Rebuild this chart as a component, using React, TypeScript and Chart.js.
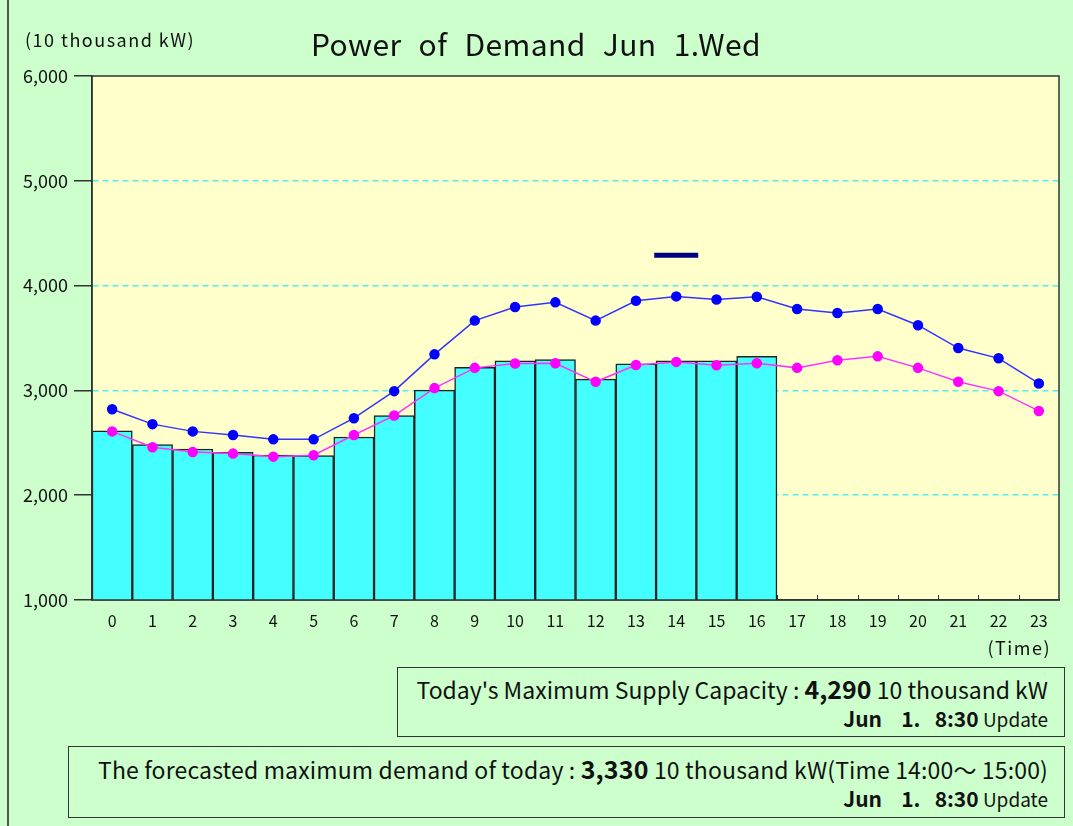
import React, { useEffect, useRef } from "react";
import { Chart, registerables } from "chart.js";

Chart.register(...registerables);

const hours = ["0","1","2","3","4","5","6","7","8","9","10","11","12","13","14","15","16","17","18","19","20","21","22","23"];
const actualDemand: (number | null)[] = [2615, 2482, 2441, 2410, 2382, 2378, 2555, 2760, 3003, 3221, 3281, 3294, 3107, 3253, 3281, 3281, 3325, null, null, null, null, null, null, null];
const blueDemand = [2820, 2678, 2609, 2574, 2533, 2533, 2735, 2993, 3344, 3666, 3795, 3840, 3666, 3855, 3897, 3868, 3893, 3777, 3739, 3777, 3622, 3404, 3306, 3066];
const magentaDemand = [2609, 2457, 2413, 2397, 2368, 2382, 2574, 2760, 3022, 3215, 3256, 3259, 3082, 3243, 3272, 3240, 3259, 3215, 3287, 3325, 3215, 3082, 2993, 2804];
const supplyCapacity: (number | null)[] = [null, null, null, null, null, null, null, null, null, null, null, null, null, null, 4290, null, null, null, null, null, null, null, null, null];
const yTicks = [1000, 2000, 3000, 4000, 5000, 6000];

const FONT = "'Noto Sans CJK JP', 'Noto Sans', sans-serif";

const plotPlugin = {
  id: "plotDeco",
  beforeDraw(chart: any) {
    const { ctx, chartArea: a } = chart;
    ctx.save();
    ctx.fillStyle = "#ffffcc";
    ctx.fillRect(a.left, a.top, a.right - a.left, a.bottom - a.top);
    ctx.restore();
  },
  beforeDatasetsDraw(chart: any) {
    const { ctx, chartArea: a, scales } = chart;
    const x = scales.x;
    ctx.save();
    ctx.strokeStyle = "#333";
    ctx.lineWidth = 1;
    for (let i = 1; i < hours.length; i++) {
      const px = Math.round((x.getPixelForValue(i - 1) + x.getPixelForValue(i)) / 2) + 0.5;
      ctx.beginPath();
      ctx.moveTo(px, a.bottom);
      ctx.lineTo(px, a.bottom - 5);
      ctx.stroke();
    }
    ctx.restore();
  },
  afterDatasetsDraw(chart: any) {
    const { ctx, chartArea: a } = chart;
    ctx.save();
    ctx.strokeStyle = "#333";
    ctx.lineWidth = 1.5;
    ctx.strokeRect(a.left, a.top, a.right - a.left, a.bottom - a.top);
    ctx.restore();
  },
};

export default function App() {
  const ref = useRef<HTMLCanvasElement>(null);
  useEffect(() => {
    if (!ref.current) return;
    const chart = new Chart(ref.current, {
      type: "bar",
      data: {
        labels: hours,
        datasets: [
          {
            type: "line",
            label: "Supply capacity",
            data: supplyCapacity,
            showLine: false,
            pointStyle: "line",
            pointRadius: 22,
            pointBorderWidth: 5,
            borderColor: "#000080",
            backgroundColor: "#000080",
            order: 0,
          } as any,
          {
            type: "line",
            label: "Forecast",
            data: magentaDemand,
            borderColor: "#ff33ff",
            backgroundColor: "#ff00ff",
            pointBackgroundColor: "#ff00ff",
            pointBorderColor: "#ff00ff",
            borderWidth: 1.5,
            pointRadius: 4.5,
            tension: 0,
            order: 1,
          } as any,
          {
            type: "line",
            label: "Comparison",
            data: blueDemand,
            borderColor: "#3333ff",
            backgroundColor: "#0000ff",
            pointBackgroundColor: "#0000ff",
            pointBorderColor: "#0000ff",
            borderWidth: 1.5,
            pointRadius: 4.5,
            tension: 0,
            order: 2,
          } as any,
          {
            type: "bar",
            label: "Actual",
            data: actualDemand,
            backgroundColor: "#44ffff",
            borderColor: "#222",
            borderWidth: 1.5,
            barPercentage: 1,
            categoryPercentage: 1,
            order: 3,
          } as any,
        ],
      },
      options: {
        animation: false,
        responsive: false,
        layout: { autoPadding: false, padding: { top: 76, right: 14, left: 0, bottom: 0 } },
        plugins: { legend: { display: false }, tooltip: { enabled: false }, title: { display: false } },
        scales: {
          x: {
            offset: true,
            grid: { display: true, drawOnChartArea: false, drawTicks: true, tickLength: 11, tickColor: "rgba(0,0,0,0)", color: "rgba(0,0,0,0)" },
            border: { display: true, color: "#333", width: 1.5 },
            ticks: { color: "#111", padding: 0, font: { family: FONT, size: 16 }, maxRotation: 0, autoSkip: false },
            afterFit: (s: any) => { s.height = 60; s.paddingLeft = 0; s.paddingRight = 0; },
          },
          y: {
            min: 1000,
            max: 6000,
            afterBuildTicks: (s: any) => { s.ticks = yTicks.map((v) => ({ value: v })); },
            grid: {
              color: (c: any) => (c.tick && (c.tick.value === 1000 || c.tick.value === 6000) ? "rgba(0,0,0,0)" : "#55eeee"),
              lineWidth: 1.5,
              tickColor: "#333",
              tickLength: 18,
              tickWidth: 1.5,
            },
            border: { display: true, color: "#333", width: 1.5, dash: [6, 4] },
            ticks: {
              color: "#111",
              padding: 6,
              font: { family: FONT, size: 18 },
              callback: (v: any) => Number(v).toLocaleString("en-US"),
            },
            afterFit: (s: any) => { s.width = 92; s.paddingTop = 0; s.paddingBottom = 0; },
          },
        },
      },
      plugins: [plotPlugin],
    });
    return () => chart.destroy();
  }, []);

  const boxStyle: React.CSSProperties = {
    position: "absolute",
    border: "1.5px solid #333",
    boxSizing: "border-box",
    textAlign: "right",
    paddingRight: 16,
    fontFamily: FONT,
    color: "#111",
    whiteSpace: "nowrap",
  };

  const updateLine = (
    <div style={{ fontSize: 19, lineHeight: "26px", marginTop: 2 }}>
      <span style={{ fontWeight: 600, fontSize: 21 }}>Jun&nbsp;&nbsp;&nbsp;&nbsp;1.&nbsp;&nbsp;&nbsp;8:30</span> Update
    </div>
  );

  return (
    <div style={{ position: "absolute", left: 0, top: 0, width: 1073, height: 826, background: "#ccffcc", fontFamily: FONT, overflow: "hidden" }}>
      <div style={{ position: "absolute", left: 7, top: 0, width: 1.5, height: 826, background: "#555" }} />
      <canvas ref={ref} width={1073} height={660} style={{ position: "absolute", left: 0, top: 0 }} />
      <div style={{ position: "absolute", left: 25, top: 26, fontSize: 18, letterSpacing: 1.5, color: "#111", whiteSpace: "nowrap" }}>(10 thousand kW)</div>
      <div style={{ position: "absolute", left: 311, top: 21, fontSize: 30, color: "#111", letterSpacing: 0.4, wordSpacing: 10, whiteSpace: "nowrap" }}>Power of Demand Jun 1.Wed</div>
      <div style={{ position: "absolute", right: 22, top: 634, fontSize: 18, letterSpacing: 1.5, color: "#111" }}>(Time)</div>
      <div style={{ ...boxStyle, left: 397, top: 667, width: 668, height: 70 }}>
        <div style={{ fontSize: 23, lineHeight: "28px", marginTop: 6 }}>
          Today's Maximum Supply Capacity : <span style={{ fontSize: 25, fontWeight: 600 }}>4,290</span> 10 thousand kW
        </div>
        {updateLine}
      </div>
      <div style={{ ...boxStyle, left: 68, top: 746, width: 997, height: 72 }}>
        <div style={{ fontSize: 23, lineHeight: "28px", marginTop: 7, letterSpacing: 0.15 }}>
          The forecasted maximum demand of today : <span style={{ fontSize: 25, fontWeight: 600 }}>3,330</span> 10 thousand kW(Time 14:00～ 15:00)
        </div>
        {updateLine}
      </div>
    </div>
  );
}
